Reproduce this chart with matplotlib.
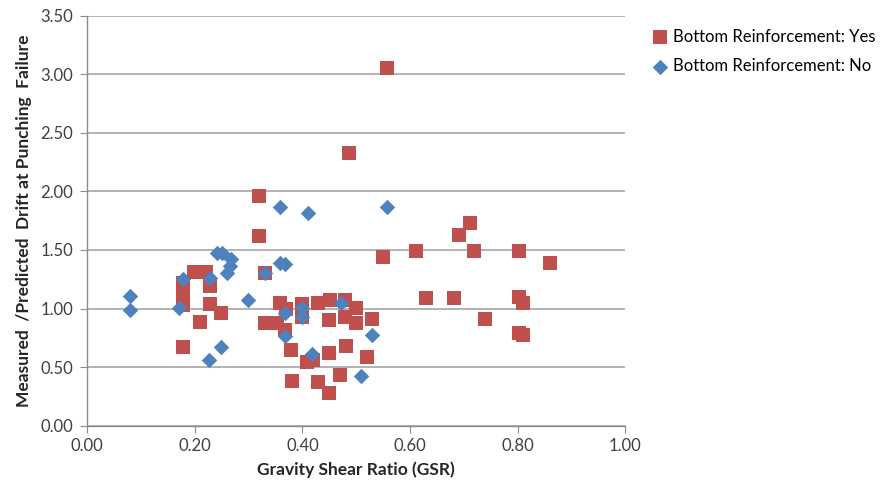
import matplotlib
matplotlib.use("Agg")
import matplotlib.pyplot as plt

# Bottom reinforcement: Yes (red squares)
gsr_yes = [0.557, 0.486, 0.319, 0.319, 0.330,
           0.711, 0.691, 0.719, 0.611, 0.802, 0.860, 0.550,
           0.629, 0.682, 0.802, 0.810, 0.740, 0.802, 0.810,
           0.178, 0.178, 0.178, 0.178, 0.198, 0.220, 0.228, 0.228,
           0.249, 0.210,
           0.358, 0.369, 0.349, 0.352, 0.330, 0.367, 0.378, 0.380,
           0.400, 0.400, 0.409, 0.420, 0.429, 0.429,
           0.451, 0.450, 0.450, 0.450, 0.479, 0.479, 0.480, 0.470,
           0.4995, 0.4995, 0.530, 0.520]
ratio_yes = [3.05, 2.33, 1.96, 1.62, 1.30,
             1.73, 1.63, 1.49, 1.49, 1.49, 1.39, 1.44,
             1.09, 1.09, 1.10, 1.045, 0.91, 0.795, 0.775,
             1.22, 1.13, 1.03, 0.67, 1.315, 1.315, 1.19, 1.035,
             0.965, 0.885,
             1.045, 1.00, 0.874, 0.874, 0.874, 0.817, 0.646, 0.384,
             1.035, 0.925, 0.54, 0.56, 1.045, 0.376,
             1.073, 0.903, 0.618, 0.28, 1.073, 0.931, 0.683, 0.43,
             1.008, 0.874, 0.915, 0.589]

# Bottom reinforcement: No (blue diamonds)
gsr_no = [0.079, 0.079, 0.170, 0.178, 0.228, 0.227,
          0.241, 0.250, 0.249, 0.260, 0.266, 0.268, 0.298,
          0.330, 0.358, 0.358, 0.367, 0.367, 0.367,
          0.400, 0.400, 0.410, 0.418, 0.471, 0.509, 0.530, 0.558]
ratio_no = [1.11, 0.988, 1.005, 1.25, 1.259, 0.56,
            1.477, 1.477, 0.668, 1.30, 1.36, 1.42, 1.07,
            1.30, 1.865, 1.392, 1.38, 0.965, 0.765,
            1.008, 0.925, 1.814, 0.612, 1.045, 0.425, 0.775, 1.865]

RED = "#C0504D"
BLUE = "#4F81BD"
GRID = "#A6A6A6"

plt.rcParams["font.family"] = ["Lato", "DejaVu Sans"]

fig = plt.figure(figsize=(8.9, 4.93), dpi=100)
ax = fig.add_axes([0.098, 0.1365, 0.6046, 0.8317])

ax.scatter(gsr_yes, ratio_yes, marker="s", s=95, color=RED, linewidths=0,
           label="Bottom Reinforcement: Yes", zorder=3)
ax.scatter(gsr_no, ratio_no, marker="D", s=62, color=BLUE, linewidths=0,
           label="Bottom Reinforcement: No", zorder=4)

ax.set_xlim(0, 1.0)
ax.set_ylim(0, 3.5)
ax.set_xticks([0, 0.2, 0.4, 0.6, 0.8, 1.0])
ax.set_yticks([0, 0.5, 1.0, 1.5, 2.0, 2.5, 3.0, 3.5])
ax.set_xticklabels([f"{v:.2f}" for v in ax.get_xticks()])
ax.set_yticklabels([f"{v:.2f}" for v in ax.get_yticks()])
ax.yaxis.grid(True, color=GRID, linewidth=1.2)
ax.set_axisbelow(True)

for side in ("top", "right"):
    ax.spines[side].set_visible(False)
for side in ("left", "bottom"):
    ax.spines[side].set_color("#8C8C8C")
    ax.spines[side].set_linewidth(1.0)
ax.tick_params(axis="both", direction="out", length=5, color="#8C8C8C",
               labelsize=12, labelcolor="#404040")
ax.tick_params(axis="x", pad=4)
ax.tick_params(axis="y", pad=5)

ax.set_xlabel("Gravity Shear Ratio (GSR)", fontsize=12.5, fontweight="bold",
              color="#262626", labelpad=5)
ax.set_ylabel("Measured  /Predicted  Drift at Punching  Failure", fontsize=12.5,
              fontweight="bold", color="#262626", labelpad=6)

fig.legend(loc="upper left", bbox_to_anchor=(0.725, 0.955), frameon=False,
           fontsize=12, handletextpad=0.25, labelspacing=0.8,
           handlelength=1.0, borderaxespad=0)

fig.savefig("out.png", dpi=100)
